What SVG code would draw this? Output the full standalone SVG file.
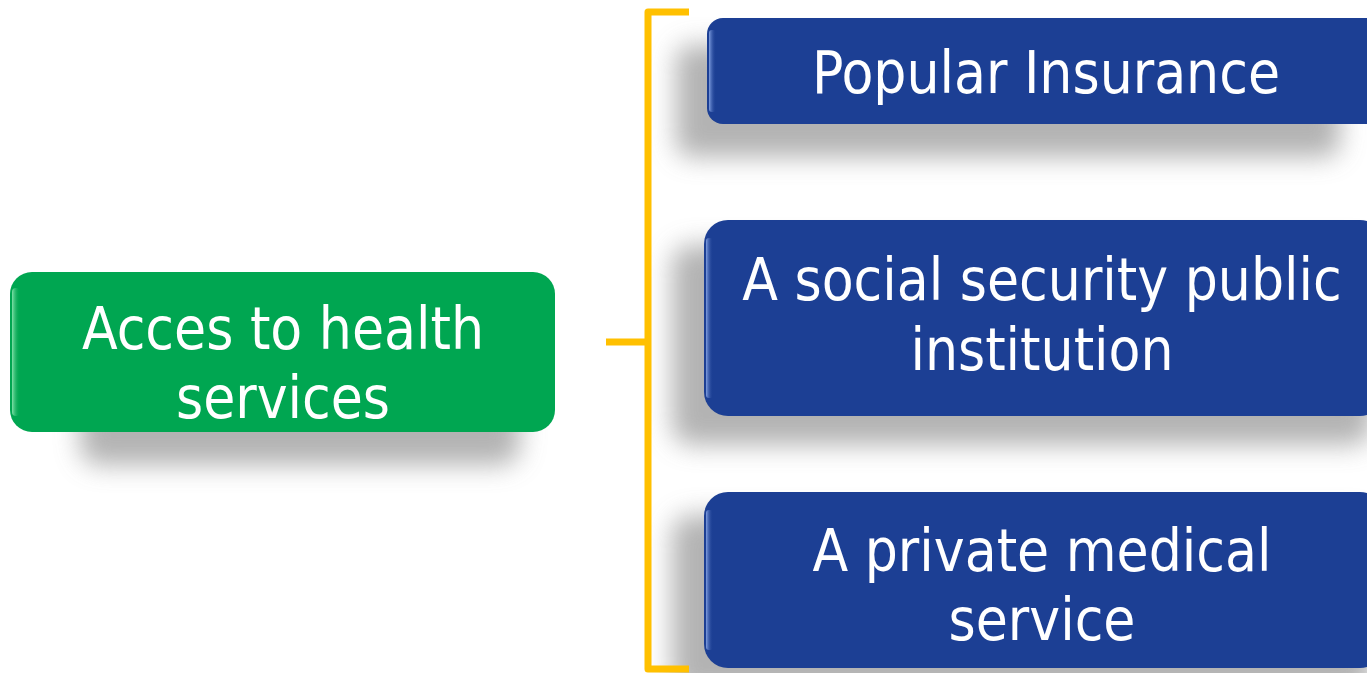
<svg xmlns="http://www.w3.org/2000/svg" width="1367" height="673" viewBox="0 0 1367 673">
<defs>
<filter id="blur" x="-20%" y="-50%" width="140%" height="200%"><feGaussianBlur stdDeviation="13"/></filter>
<linearGradient id="hlG" x1="0" x2="1" y1="0" y2="0"><stop offset="0" stop-color="#7fe0a8"/><stop offset="1" stop-color="#00a651" stop-opacity="0"/></linearGradient>
<linearGradient id="hlB" x1="0" x2="1" y1="0" y2="0"><stop offset="0" stop-color="#7f9ee0"/><stop offset="1" stop-color="#1c3f94" stop-opacity="0"/></linearGradient>
</defs>
<style>
.t{font-family:"DejaVu Sans Condensed","DejaVu Sans",sans-serif;font-stretch:condensed;font-size:58px;fill:#fff;text-anchor:middle}
.sh{fill:#9a9a9a;opacity:0.75;filter:url(#blur)}
.green{fill:#00a651}
.blue{fill:#1c3f94}
.br{fill:none;stroke:#ffc000;stroke-width:7;stroke-linejoin:round}
</style>
<rect width="1367" height="673" fill="#fff"/>
<g id="shadows">
<rect class="sh" x="80" y="305" width="440" height="160" rx="20"/>
<rect class="sh" x="676" y="45" width="664" height="112" rx="15"/>
<rect class="sh" x="672" y="245" width="700" height="200" rx="20"/>
<rect class="sh" x="672" y="515" width="700" height="180" rx="20"/>
</g>
<g id="connectors">
<path class="br" d="M606 342 H648"/>
<path class="br" d="M689 12 H648 V669 H689"/>
</g>
<g id="node-access">
<rect class="green" x="10" y="272" width="545" height="160" rx="22"/>
<rect x="12" y="288" width="8" height="128" rx="4" fill="url(#hlG)"/>
<text class="t" x="283" y="349">Acces to health</text>
<text class="t" x="283" y="418">services</text>
</g>
<g id="node-popular">
<rect class="blue" x="707" y="18" width="680" height="106" rx="16"/>
<rect x="709" y="30" width="7" height="82" rx="3" fill="url(#hlB)"/>
<text class="t" x="1046" y="93">Popular Insurance</text>
</g>
<g id="node-social">
<rect class="blue" x="704" y="220" width="680" height="196" rx="24"/>
<rect x="706" y="238" width="7" height="160" rx="3" fill="url(#hlB)"/>
<text class="t" x="1042" y="300">A social security public</text>
<text class="t" x="1042" y="370">institution</text>
</g>
<g id="node-private">
<rect class="blue" x="704" y="492" width="680" height="176" rx="24"/>
<rect x="706" y="510" width="7" height="140" rx="3" fill="url(#hlB)"/>
<text class="t" x="1042" y="571">A private medical</text>
<text class="t" x="1042" y="640">service</text>
</g>
</svg>
